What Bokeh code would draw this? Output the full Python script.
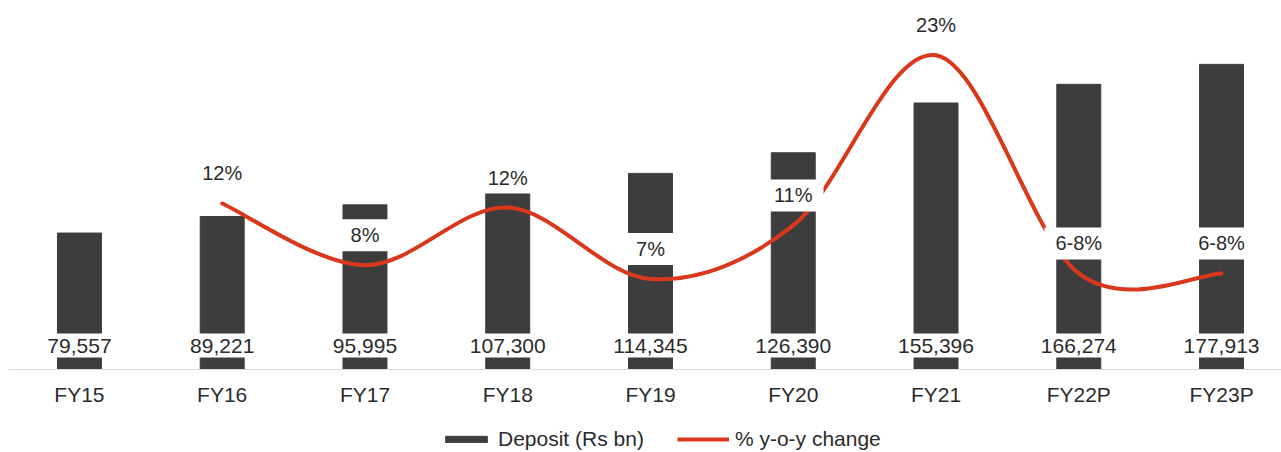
from bokeh.plotting import figure
from bokeh.layouts import column
from bokeh.models import (Range1d, FixedTicker, ColumnDataSource, Legend, LegendItem)
from bokeh.core.properties import value
from bokeh.embed import file_html
from bokeh.resources import INLINE

categories = ["FY15", "FY16", "FY17", "FY18", "FY19", "FY20", "FY21", "FY22P", "FY23P"]
deposits = [79557, 89221, 95995, 107300, 114345, 126390, 155396, 166274, 177913]
deposit_labels = ["79,557", "89,221", "95,995", "107,300", "114,345", "126,390", "155,396", "166,274", "177,913"]
yoy = [None, 12.1, 7.6, 11.8, 6.6, 10.5, 22.9, 7.0, 7.0]
yoy_labels = ["", "12%", "8%", "12%", "7%", "11%", "23%", "6-8%", "6-8%"]

BAR = "#3d3d3d"
LINE = "#d9381c"
TXT = "#2b2b2b"
FONT = "Liberation Sans"

xs = list(range(len(categories)))

FH = 369
p = figure(frame_width=1273, frame_height=FH,
           output_backend="svg", toolbar_location=None,
           x_range=Range1d(-0.497, 8.42), y_range=Range1d(0, 200000 * FH / 343),
           y_axis_location=None, min_border_left=8, min_border_right=0, min_border_top=0,
           min_border_bottom=0)
p.extra_y_ranges = {"pct": Range1d(0, 25 * FH / 343)}
p.outline_line_color = None
p.xgrid.visible = False
p.ygrid.visible = False

p.vbar(x=xs, top=deposits, width=0.308, fill_color=BAR, line_color=BAR)

# smooth line (Catmull-Rom -> cubic Bezier segments, computed from the data points)
px = [x for x, v in zip(xs, yoy) if v is not None]
pv = [v for v in yoy if v is not None]
n = len(px)
tx, ty = [], []
for i in range(n):
    a = max(i - 1, 0)
    b = min(i + 1, n - 1)
    tx.append((px[b] - px[a]) / 2)
    ty.append((pv[b] - pv[a]) / 2)
seg = dict(x0=[], y0=[], x1=[], y1=[], cx0=[], cy0=[], cx1=[], cy1=[])
for i in range(n - 1):
    seg["x0"].append(px[i]); seg["y0"].append(pv[i])
    seg["x1"].append(px[i + 1]); seg["y1"].append(pv[i + 1])
    seg["cx0"].append(px[i] + tx[i] / 3); seg["cy0"].append(pv[i] + ty[i] / 3)
    seg["cx1"].append(px[i + 1] - tx[i + 1] / 3); seg["cy1"].append(pv[i + 1] - ty[i + 1] / 3)
p.bezier(x0="x0", y0="y0", x1="x1", y1="y1", cx0="cx0", cy0="cy0", cx1="cx1", cy1="cy1",
         source=ColumnDataSource(seg), line_color=LINE, line_width=4, line_cap="round",
         y_range_name="pct")

pad = dict(left=11, right=11, top=5, bottom=5)

# deposit labels at bar bottoms
dsrc = ColumnDataSource(dict(x=xs, y=[0] * len(xs), t=deposit_labels))
p.text(x="x", y="y", text="t", source=dsrc, y_offset=-24, text_align="center",
       text_baseline="middle", text_font=value(FONT), text_font_size="21px", text_color=TXT,
       background_fill_color="white", padding=pad)

# yoy labels
psrc = ColumnDataSource(dict(x=px, y=pv, t=[l for l in yoy_labels if l]))
p.text(x="x", y="y", text="t", source=psrc, y_offset=-30, text_align="center",
       text_baseline="middle", text_font=value(FONT), text_font_size="20px", text_color=TXT,
       background_fill_color="white", padding=pad, y_range_name="pct")

ax = p.xaxis[0]
ax.ticker = FixedTicker(ticks=xs)
ax.major_label_overrides = {i: c for i, c in enumerate(categories)}
ax.major_tick_line_color = None
ax.minor_tick_line_color = None
ax.axis_line_color = "#d9d9d9"
ax.axis_line_width = 1
ax.major_label_standoff = 7
ax.major_label_text_font = FONT
ax.major_label_text_font_size = "21px"
ax.major_label_text_color = TXT

# legend strip below the chart
lg = figure(width=1281, height=43, output_backend="svg", toolbar_location=None,
            x_axis_location=None, y_axis_location=None,
            x_range=Range1d(0, 1), y_range=Range1d(0, 1),
            min_border_left=0, min_border_right=0, min_border_top=0, min_border_bottom=0)
lg.outline_line_color = None
lg.xgrid.visible = False
lg.ygrid.visible = False
nan = float("nan")
bar_proxy = lg.vbar(x=[nan], top=[nan], width=0.1, fill_color=BAR, line_color=BAR)
line_proxy = lg.line(x=[nan], y=[nan], line_color=LINE, line_width=4)

legend = Legend(items=[LegendItem(label="Deposit (Rs bn)", renderers=[bar_proxy]),
                       LegendItem(label="% y-o-y change", renderers=[line_proxy])],
                orientation="horizontal", location=(432, 0), margin=0, padding=0,
                glyph_width=52, glyph_height=8, label_standoff=6, spacing=33,
                label_text_font=FONT, label_text_font_size="21px", label_text_color=TXT,
                border_line_color=None, background_fill_alpha=0)
lg.add_layout(legend, "center")

layout = column(p, lg, spacing=0)
open("out.html", "w").write(file_html(layout, INLINE))
